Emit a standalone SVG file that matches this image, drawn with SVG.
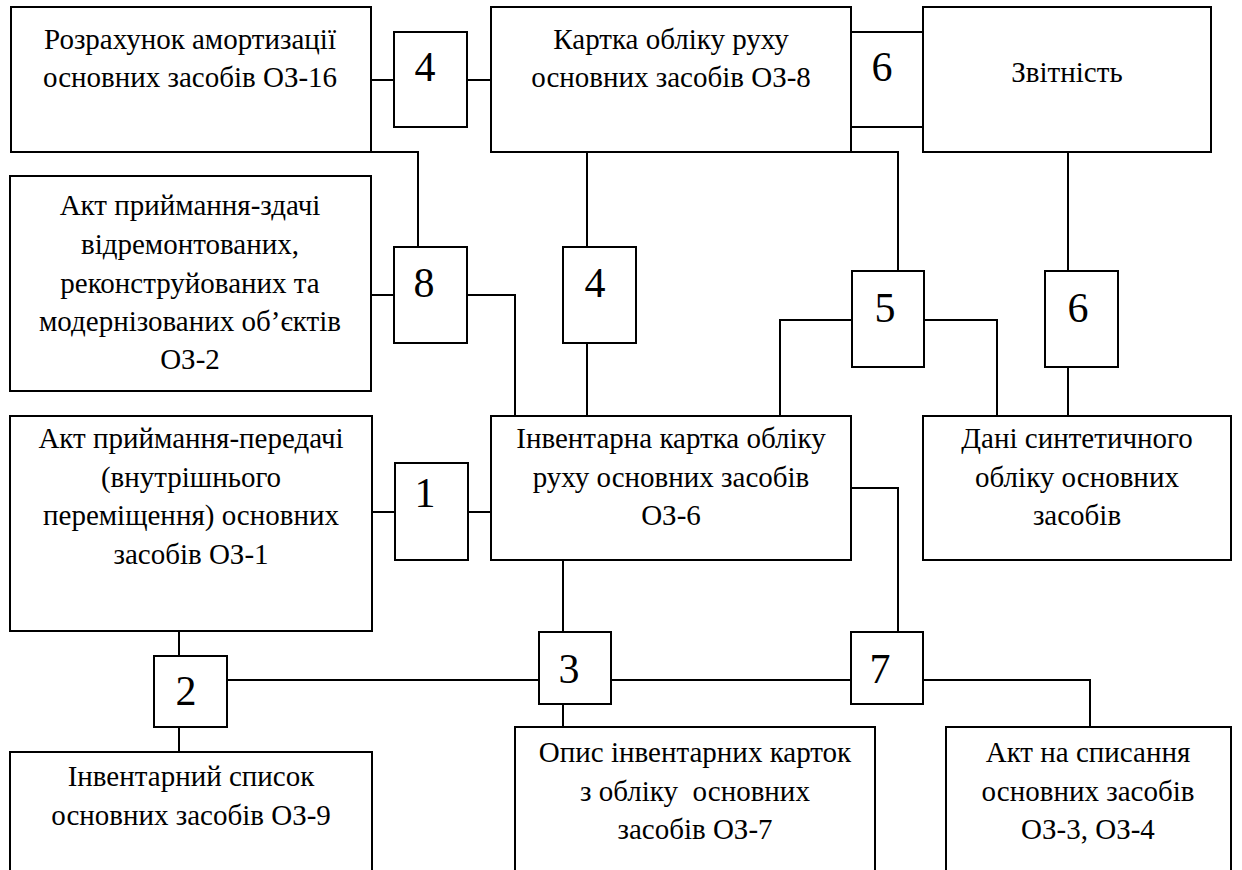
<svg xmlns="http://www.w3.org/2000/svg" width="1242" height="870" viewBox="0 0 1242 870">
<style>
.b{fill:#fff;stroke:#000;stroke-width:2}
.c{fill:none;stroke:#000;stroke-width:2}
.t{font-family:"Liberation Serif","Times New Roman",serif;font-size:29px;fill:#000;text-anchor:middle}
.n{font-family:"Liberation Serif","Times New Roman",serif;font-size:42px;fill:#000;text-anchor:middle}
</style>
<rect width="1242" height="870" fill="#fff"/>
<g id="connectors">
<path class="c" d="M371,80H394M467,80H491"/>
<path class="c" d="M371,152H418V247"/>
<path class="c" d="M371,295H394"/>
<path class="c" d="M467,295H515V416"/>
<path class="c" d="M587,152V247M587,343V416"/>
<path class="c" d="M851,152H898V271"/>
<path class="c" d="M1068,152V271M1068,367V416"/>
<path class="c" d="M852,320H780V416M924,320H997V416"/>
<path class="c" d="M372,512H395M468,512H491"/>
<path class="c" d="M851,488H898V632"/>
<path class="c" d="M563,560V632M563,704V727"/>
<path class="c" d="M179,631V656M179,727V752"/>
<path class="c" d="M227,680H539M611,680H851M923,680H1090V727"/>
</g>
<g id="node-rozrakhunok"><rect class="b" x="11" y="7" width="360" height="145"/><text class="t" x="190" y="49">Розрахунок амортизації</text><text class="t" x="190" y="87">основних засобів ОЗ-16</text></g>
<g id="node-kartka8"><rect class="b" x="491" y="7" width="360" height="145"/><text class="t" x="671" y="49">Картка обліку руху</text><text class="t" x="671" y="87">основних засобів ОЗ-8</text></g>
<g id="node-zvitnist"><rect class="b" x="923" y="7" width="288" height="145"/><text class="t" x="1067" y="82">Звітність</text></g>
<g id="node-akt2"><rect class="b" x="10" y="176" width="361" height="215"/><text class="t" x="190" y="215">Акт приймання-здачі</text><text class="t" x="190" y="254">відремонтованих,</text><text class="t" x="190" y="293">реконструйованих та</text><text class="t" x="190" y="331">модернізованих об’єктів</text><text class="t" x="190" y="369">ОЗ-2</text></g>
<g id="node-akt1"><rect class="b" x="10" y="416" width="362" height="215"/><text class="t" x="191" y="448">Акт приймання-передачі</text><text class="t" x="191" y="487">(внутрішнього</text><text class="t" x="191" y="525">переміщення) основних</text><text class="t" x="191" y="564">засобів ОЗ-1</text></g>
<g id="node-inv6"><rect class="b" x="491" y="416" width="360" height="144"/><text class="t" x="671" y="448">Інвентарна картка обліку</text><text class="t" x="671" y="487">руху основних засобів</text><text class="t" x="671" y="525">ОЗ-6</text></g>
<g id="node-dani"><rect class="b" x="923" y="416" width="308" height="144"/><text class="t" x="1077" y="448">Дані синтетичного</text><text class="t" x="1077" y="487">обліку основних</text><text class="t" x="1077" y="525">засобів</text></g>
<g id="node-inv9"><rect class="b" x="10" y="752" width="362" height="140"/><text class="t" x="191" y="786">Інвентарний список</text><text class="t" x="191" y="825">основних засобів ОЗ-9</text></g>
<g id="node-opys"><rect class="b" x="515" y="727" width="360" height="160"/><text class="t" x="695" y="762">Опис інвентарних карток</text><text class="t" x="695" y="801" xml:space="preserve">з обліку  основних</text><text class="t" x="695" y="839">засобів ОЗ-7</text></g>
<g id="node-spys"><rect class="b" x="946" y="727" width="285" height="160"/><text class="t" x="1088" y="762">Акт на списання</text><text class="t" x="1088" y="801">основних засобів</text><text class="t" x="1088" y="839">ОЗ-3, ОЗ-4</text></g>
<g id="num-4a"><rect class="b" x="394" y="32" width="73" height="95"/><text class="n" x="425" y="81">4</text></g>
<g id="num-6a"><rect class="b" x="851" y="32" width="72" height="95"/><text class="n" x="882" y="81">6</text></g>
<g id="num-8"><rect class="b" x="394" y="247" width="73" height="96"/><text class="n" x="424" y="297">8</text></g>
<g id="num-4b"><rect class="b" x="563" y="247" width="73" height="96"/><text class="n" x="595" y="297">4</text></g>
<g id="num-5"><rect class="b" x="852" y="271" width="72" height="96"/><text class="n" x="885" y="322">5</text></g>
<g id="num-6b"><rect class="b" x="1045" y="271" width="73" height="96"/><text class="n" x="1078" y="322">6</text></g>
<g id="num-1"><rect class="b" x="395" y="463" width="73" height="97"/><text class="n" x="425" y="507">1</text></g>
<g id="num-2"><rect class="b" x="154" y="656" width="73" height="71"/><text class="n" x="186" y="705">2</text></g>
<g id="num-3"><rect class="b" x="539" y="632" width="72" height="72"/><text class="n" x="569" y="683">3</text></g>
<g id="num-7"><rect class="b" x="851" y="632" width="72" height="72"/><text class="n" x="880" y="683">7</text></g>
</svg>
